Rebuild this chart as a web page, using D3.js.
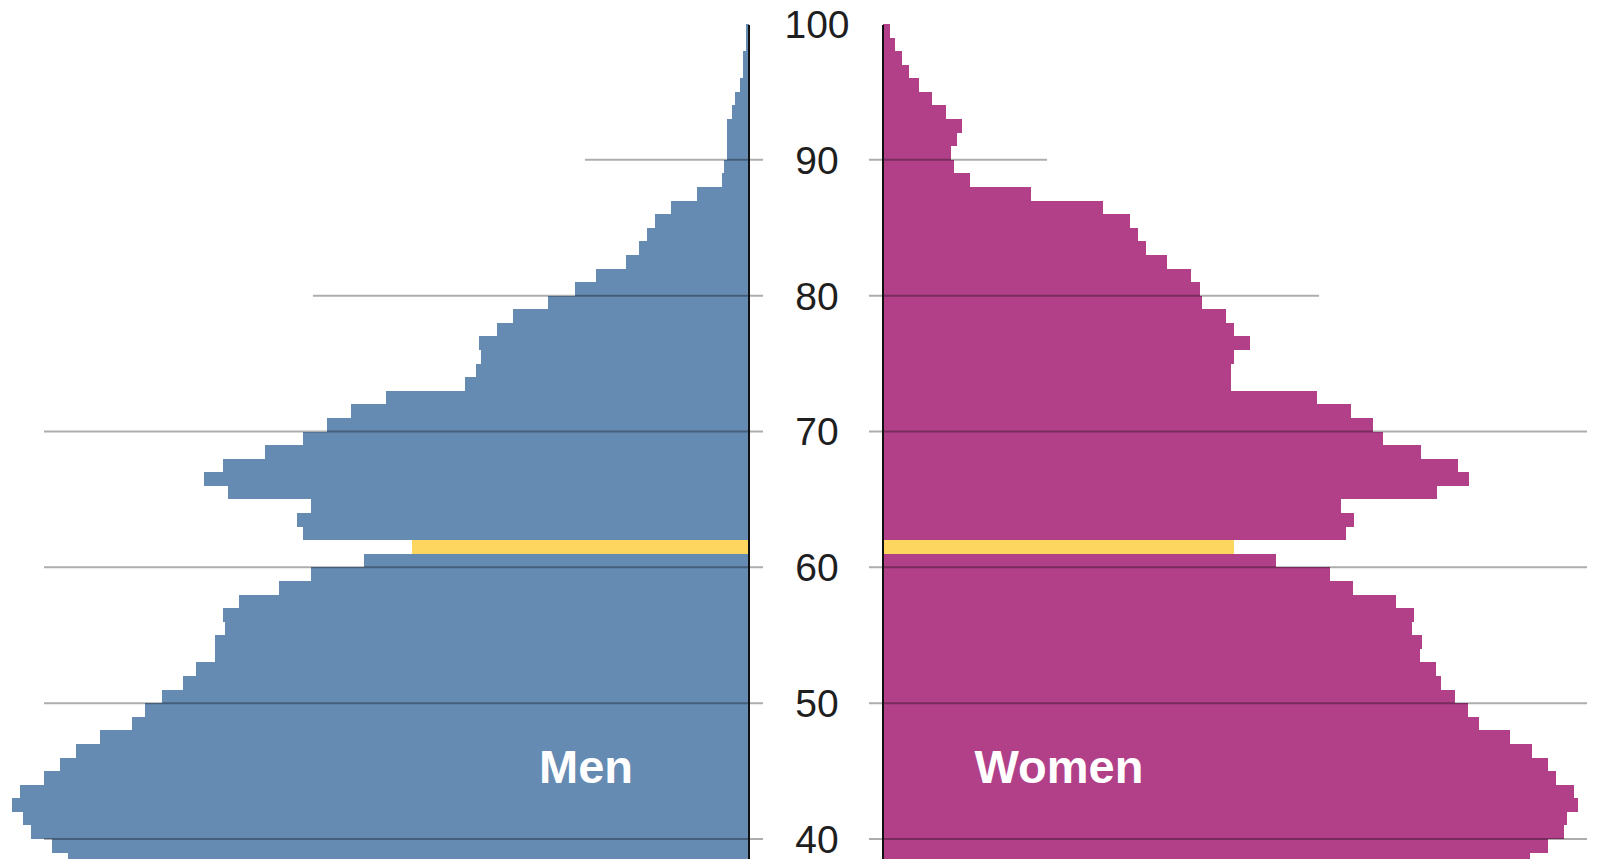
<!DOCTYPE html>
<html>
<head>
<meta charset="utf-8">
<script src="https://cdn.jsdelivr.net/npm/d3@7"></script>
<style>
  html, body { margin: 0; padding: 0; background: #fff; overflow: hidden; }
  svg { display: block; }
</style>
</head>
<body>
<svg id="chart" width="1603" height="859"></svg>
<script>
// ---- data (population, thousands, by single year of age) ----
const ages = d3.range(99, 37, -1); // 99 .. 38
const men = [
  3, 3, 6, 6, 9, 14, 17, 22, 22, 22,          // 99..90
  25, 27, 52, 78, 94, 102, 110, 123, 153, 174, // 89..80
  201, 236, 252, 270, 268, 273, 284, 363, 398, 422, // 79..70
  446, 484, 526, 545, 521, 438, 452, 446, 337, 385, // 69..60
  438, 470, 510, 526, 524, 534, 534, 553, 566, 587, // 59..50
  604, 617, 649, 673, 689, 705, 729, 737, 726, 718, // 49..40
  697, 681                                      // 39..38
];
const women = [
  7, 12, 19, 26, 36, 49, 63, 79, 74, 68,       // 99..90
  71, 87, 148, 220, 247, 255, 263, 284, 308, 317, // 89..80
  319, 343, 351, 367, 351, 348, 348, 434, 468, 490, // 79..70
  500, 538, 575, 586, 554, 458, 471, 463, 351, 393, // 69..60
  447, 470, 513, 531, 529, 539, 537, 553, 558, 572, // 59..50
  585, 596, 627, 649, 665, 673, 691, 695, 684, 681, // 49..40
  665, 647                                      // 39..38
];
const highlightAge = 61;
const tickAges = [100, 90, 80, 70, 60, 50, 40];
const gridAges = [90, 80, 70, 60, 50, 40];
const gridReach = [164, 436, 705, 705, 705, 705]; // thousands
const sexLabels = ["Men", "Women"];

// ---- layout ----
const W = 1603, H = 859;
const axisL = 749, axisR = 883;
const svg = d3.select("#chart");

const y = d3.scaleLinear().domain([40, 100]).range([839, 24]);
const len = d3.scaleLinear().domain([0, 1000]).range([0, 1000]);

const colMen = "#668bb3", colWomen = "#b24089", colHi = "#fdd65f";

const rows = ages.map((a, i) => ({ age: a, m: men[i], w: women[i] }));

// bars
const gBars = svg.append("g").attr("shape-rendering", "crispEdges");
gBars.selectAll("rect.m").data(rows).join("rect")
  .attr("class", "m")
  .attr("x", d => axisL - len(d.m))
  .attr("width", d => len(d.m))
  .attr("y", d => Math.round(y(d.age + 1)))
  .attr("height", d => Math.round(y(d.age)) - Math.round(y(d.age + 1)))
  .attr("fill", d => d.age === highlightAge ? colHi : colMen);
gBars.selectAll("rect.w").data(rows).join("rect")
  .attr("class", "w")
  .attr("x", axisR)
  .attr("width", d => len(d.w))
  .attr("y", d => Math.round(y(d.age + 1)))
  .attr("height", d => Math.round(y(d.age)) - Math.round(y(d.age + 1)))
  .attr("fill", d => d.age === highlightAge ? colHi : colWomen);

// gridlines (with ticks)
const grid = gridAges.map((a, i) => ({ age: a, reach: gridReach[i] }));
const gGrid = svg.append("g").attr("stroke", "rgba(0,0,0,0.32)").attr("stroke-width", 2);
gGrid.selectAll("line.l").data(grid).join("line")
  .attr("x1", d => Math.max(44, axisL - len(d.reach)))
  .attr("x2", axisL + 14)
  .attr("y1", d => y(d.age)).attr("y2", d => y(d.age));
gGrid.selectAll("line.r").data(grid).join("line")
  .attr("x1", axisR - 14)
  .attr("x2", d => Math.min(W - 16, axisR + len(d.reach)))
  .attr("y1", d => y(d.age)).attr("y2", d => y(d.age));

// axis lines
svg.append("line").attr("x1", axisL).attr("x2", axisL).attr("y1", y(100) + 1).attr("y2", H)
  .attr("stroke", "#111").attr("stroke-width", 2);
svg.append("line").attr("x1", axisR).attr("x2", axisR).attr("y1", y(100) + 1).attr("y2", H)
  .attr("stroke", "#111").attr("stroke-width", 2);

// tick labels
const fs = 39;
svg.append("g").selectAll("text").data(tickAges).join("text")
  .attr("x", (axisL + axisR) / 2 + 1)
  .attr("y", d => y(d) + fs * 0.358)
  .attr("text-anchor", "middle")
  .attr("font-family", "'Liberation Sans', Arial, Helvetica, sans-serif")
  .attr("font-size", fs)
  .attr("fill", "#1e1e1e")
  .text(d => d);

// sex labels
svg.append("text")
  .attr("x", axisL - len(163)).attr("y", 783)
  .attr("text-anchor", "middle")
  .attr("font-family", "'Liberation Sans', Arial, Helvetica, sans-serif")
  .attr("font-weight", "bold").attr("font-size", 47).attr("fill", "#fff")
  .text(sexLabels[0]);
svg.append("text")
  .attr("x", axisR + len(176)).attr("y", 783)
  .attr("text-anchor", "middle")
  .attr("font-family", "'Liberation Sans', Arial, Helvetica, sans-serif")
  .attr("font-weight", "bold").attr("font-size", 47).attr("fill", "#fff")
  .text(sexLabels[1]);
</script>
</body>
</html>
